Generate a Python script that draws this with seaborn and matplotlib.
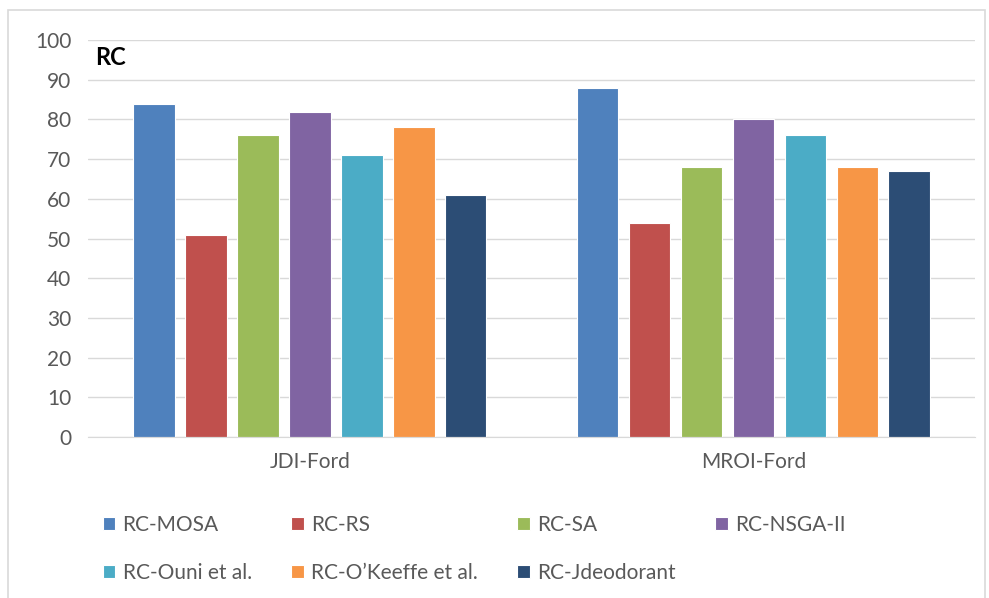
import numpy as np
import pandas as pd
import matplotlib.pyplot as plt
import seaborn as sns
from matplotlib.patches import Rectangle

# data
groups = ['JDI-Ford', 'MROI-Ford']
methods = ['RC-MOSA', 'RC-RS', 'RC-SA', 'RC-NSGA-II',
           'RC-Ouni et al.', 'RC-O\u2019Keeffe et al.', 'RC-Jdeodorant']
jdi_ford = [84, 51, 76, 82, 71, 78, 61]
mroi_ford = [88, 54, 68, 80, 76, 68, 67]
colors = ['#4F81BD', '#C0504D', '#9BBB59', '#8064A2',
          '#4BACC6', '#F79646', '#2C4D75']
yticks = [0, 10, 20, 30, 40, 50, 60, 70, 80, 90, 100]

data = pd.DataFrame({
    'group': np.repeat(groups, len(methods)),
    'method': methods * len(groups),
    'value': jdi_ford + mroi_ford,
})

sns.set_style('white')
plt.rcParams['font.family'] = ['Lato', 'DejaVu Sans']

fig = plt.figure(figsize=(9.89, 5.98), dpi=100)
ax = fig.add_axes([0.089, 0.269, 0.897, 0.664])

sns.barplot(data=data, x='group', y='value', hue='method', hue_order=methods,
            palette=colors, saturation=1, width=0.82, gap=0.2,
            edgecolor='white', linewidth=0.8, ax=ax)

ax.set_xlim(-0.5, 1.5)
ax.set_ylim(0, 100)
ax.set_yticks(yticks)
ax.yaxis.grid(True, color='#D9D9D9', linewidth=1)
ax.set_axisbelow(True)
for s in ['top', 'right', 'left']:
    ax.spines[s].set_visible(False)
ax.spines['bottom'].set_color('#D9D9D9')
ax.tick_params(axis='both', length=0, labelsize=15, labelcolor='#595959')
ax.tick_params(axis='x', pad=11)
ax.tick_params(axis='y', pad=12)
ax.set_xlabel('')
ax.set_ylabel('')
ax.text(0.008, 0.955, 'RC', transform=ax.transAxes, fontsize=17,
        fontweight='bold', color='black', va='center', ha='left')

# legend filled row by row like the reference (matplotlib fills by column)
handles, labels = ax.get_legend_handles_labels()
ax.get_legend().remove()
order = [0, 4, 1, 5, 2, 6, 3]
fig.legend([handles[i] for i in order], [labels[i] for i in order],
           loc='upper left', bbox_to_anchor=(0.085, 0.170),
           ncol=4, frameon=False, fontsize=15, labelcolor='#595959',
           handlelength=0.6, handleheight=0.6, handletextpad=0.35,
           columnspacing=1.9, labelspacing=1.35)

# light border around the chart area
fig.patches.append(Rectangle((0.008, -0.01), 0.988, 0.993, transform=fig.transFigure,
                             fill=False, edgecolor='#D9D9D9', linewidth=1.2))

plt.savefig('out.png', dpi=100)
